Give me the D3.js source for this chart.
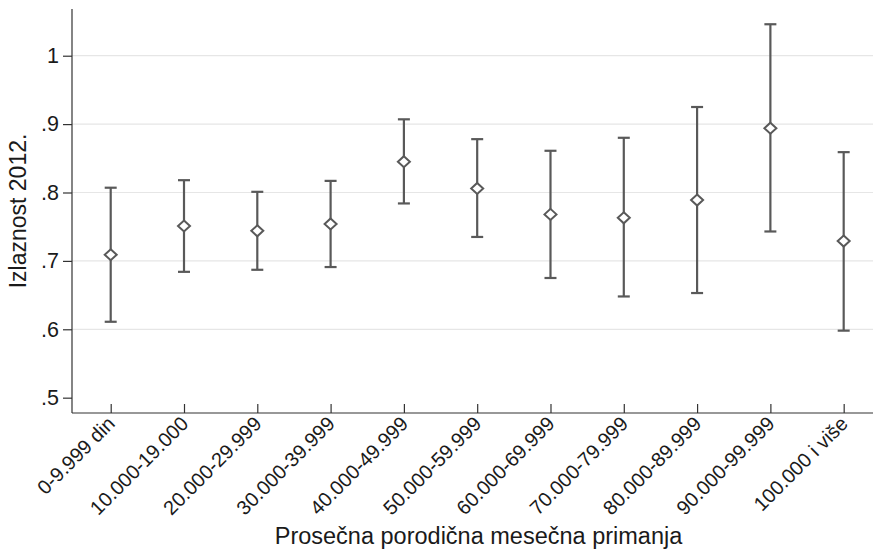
<!DOCTYPE html>
<html>
<head>
<meta charset="utf-8">
<script src="https://cdn.jsdelivr.net/npm/d3@7"></script>
<style>
  html, body { margin: 0; padding: 0; background: #fff; }
  svg { display: block; }
  text { font-family: "Liberation Sans", Arial, Helvetica, sans-serif; fill: #1a1a1a; }
</style>
</head>
<body>
<svg id="chart" width="873" height="550"></svg>
<script>
const categories = ["0-9.999 din", "10.000-19.000", "20.000-29.999", "30.000-39.999", "40.000-49.999",
  "50.000-59.999", "60.000-69.999", "70.000-79.999", "80.000-89.999", "90.000-99.999", "100.000 i više"];
const means = [0.709, 0.751, 0.744, 0.754, 0.845, 0.806, 0.768, 0.763, 0.789, 0.894, 0.729];
const lower = [0.611, 0.684, 0.687, 0.691, 0.784, 0.735, 0.675, 0.648, 0.653, 0.743, 0.598];
const upper = [0.807, 0.818, 0.801, 0.817, 0.907, 0.878, 0.861, 0.880, 0.925, 1.046, 0.859];
const yTicks = [0.5, 0.6, 0.7, 0.8, 0.9, 1.0];
const yTickLabels = [".5", ".6", ".7", ".8", ".9", "1"];
const xTitle = "Prosečna porodična mesečna primanja";
const yTitle = "Izlaznost 2012.";

(function () {
const svg = d3.select("#chart");
const pLeft = 72, pRight = 873, pTop = 9, pBottom = 413;

const x = d3.scaleLinear().domain([-0.528, 10.4]).range([pLeft, pRight]);
const y = d3.scaleLinear().domain([0.4776, 1.0683]).range([pBottom, pTop]);

const lineColor = "#595959";

// gridlines
svg.append("g").selectAll("line").data(yTicks.filter(d => d > 0.5)).join("line")
  .attr("x1", pLeft).attr("x2", pRight)
  .attr("y1", d => y(d)).attr("y2", d => y(d))
  .attr("stroke", "#e6e6e6").attr("stroke-width", 1.2);

// y axis
const yAxis = d3.axisLeft(y).tickValues(yTicks)
  .tickFormat((d, i) => yTickLabels[i]).tickSize(9).tickPadding(4);
const gy = svg.append("g").attr("transform", `translate(${pLeft},0)`).call(yAxis);
gy.select(".domain").remove();
gy.append("line").attr("x1", 0).attr("x2", 0).attr("y1", pTop).attr("y2", pBottom)
  .attr("stroke", "#333").attr("stroke-width", 1.2);
gy.selectAll(".tick line").attr("stroke", "#333").attr("stroke-width", 1.2);
gy.selectAll(".tick text").attr("font-size", 21.5).attr("fill", "#1a1a1a")
  .style("font-family", '"Liberation Sans", Arial, sans-serif');

// x axis
const xAxis = d3.axisTop(x).tickValues(d3.range(categories.length))
  .tickFormat(i => categories[i]).tickSize(9);
const gx = svg.append("g").attr("transform", `translate(0,${pBottom})`).call(xAxis);
gx.select(".domain").remove();
gx.append("line").attr("x1", pLeft).attr("x2", pRight).attr("y1", 0).attr("y2", 0)
  .attr("stroke", "#333").attr("stroke-width", 1.2);
gx.selectAll(".tick line").attr("stroke", "#333").attr("stroke-width", 1.2);
gx.selectAll(".tick text")
  .attr("font-size", 20).attr("fill", "#1a1a1a")
  .style("font-family", '"Liberation Sans", Arial, sans-serif')
  .attr("text-anchor", "end")
  .attr("dy", null)
  .attr("y", 0)
  .attr("transform", "translate(5,12) rotate(-45)");

// error bars
const g = svg.append("g");
const capW = 6;
categories.forEach((c, i) => {
  const cx = x(i);
  g.append("line").attr("x1", cx).attr("x2", cx)
    .attr("y1", y(lower[i])).attr("y2", y(upper[i]))
    .attr("stroke", lineColor).attr("stroke-width", 2.2);
  [lower[i], upper[i]].forEach(v => {
    g.append("line").attr("x1", cx - capW).attr("x2", cx + capW)
      .attr("y1", y(v)).attr("y2", y(v))
      .attr("stroke", lineColor).attr("stroke-width", 2.2);
  });
});

// diamonds
const dw = 6, dh = 5.5;
g.selectAll("path.pt").data(means).join("path")
  .attr("class", "pt")
  .attr("d", (d, i) => {
    const cx = x(i), cy = y(d);
    return `M${cx},${cy - dh}L${cx + dw},${cy}L${cx},${cy + dh}L${cx - dw},${cy}Z`;
  })
  .attr("fill", "#fff").attr("stroke", lineColor).attr("stroke-width", 2);

// titles
svg.append("text").attr("x", (pLeft + pRight) / 2 + 6).attr("y", 544)
  .attr("text-anchor", "middle").attr("font-size", 23.5).text(xTitle);
svg.append("text").attr("transform", `translate(26,${(pTop + pBottom) / 2}) rotate(-90)`)
  .attr("text-anchor", "middle").attr("font-size", 23).text(yTitle);
})();
</script>
</body>
</html>
